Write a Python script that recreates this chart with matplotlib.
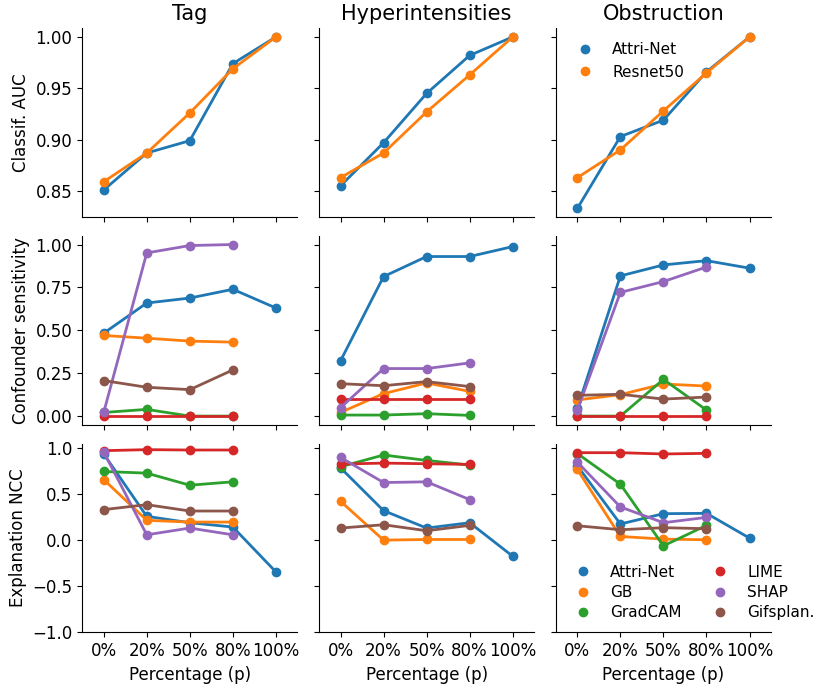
import numpy as np
import matplotlib
matplotlib.use('Agg')
import matplotlib.pyplot as plt
from matplotlib.lines import Line2D

# x categories
percentages = ['0%', '20%', '50%', '80%', '100%']
datasets = ['Tag', 'Hyperintensities', 'Obstruction']
row_labels = ['Classif. AUC', 'Confounder sensitivity', 'Explanation NCC']

# classification AUC
auc_attrinet = {
    'Tag': [0.851, 0.887, 0.899, 0.974, 1.0],
    'Hyperintensities': [0.855, 0.897, 0.945, 0.982, 1.0],
    'Obstruction': [0.833, 0.903, 0.919, 0.966, 1.0],
}
auc_resnet = {
    'Tag': [0.859, 0.887, 0.926, 0.969, 1.0],
    'Hyperintensities': [0.863, 0.887, 0.927, 0.963, 1.0],
    'Obstruction': [0.863, 0.890, 0.928, 0.965, 1.0],
}

# confounder sensitivity
methods = ['Attri-Net', 'GB', 'GradCAM', 'LIME', 'SHAP', 'Gifsplan.']
conf_tag = {
    'Attri-Net': [0.483, 0.659, 0.688, 0.739, 0.630],
    'GB': [0.470, 0.454, 0.437, 0.431],
    'GradCAM': [0.021, 0.039, 0.0, 0.0],
    'LIME': [0.0, 0.0, 0.0, 0.0],
    'SHAP': [0.021, 0.951, 0.994, 1.0],
    'Gifsplan.': [0.207, 0.168, 0.154, 0.269],
}
conf_hyper = {
    'Attri-Net': [0.322, 0.813, 0.930, 0.930, 0.988],
    'GB': [0.021, 0.131, 0.193, 0.144],
    'GradCAM': [0.006, 0.006, 0.014, 0.004],
    'LIME': [0.099, 0.099, 0.099, 0.099],
    'SHAP': [0.049, 0.277, 0.277, 0.310],
    'Gifsplan.': [0.189, 0.177, 0.201, 0.172],
}
conf_obst = {
    'Attri-Net': [0.045, 0.817, 0.881, 0.906, 0.862],
    'GB': [0.094, 0.125, 0.187, 0.175],
    'GradCAM': [0.0, 0.0, 0.214, 0.035],
    'LIME': [0.0, 0.0, 0.0, 0.0],
    'SHAP': [0.035, 0.721, 0.784, 0.869],
    'Gifsplan.': [0.121, 0.127, 0.099, 0.111],
}

# explanation NCC
ncc_tag = {
    'Attri-Net': [0.935, 0.258, 0.189, 0.142, -0.345],
    'GB': [0.658, 0.215, 0.196, 0.196],
    'GradCAM': [0.745, 0.727, 0.596, 0.633],
    'LIME': [0.971, 0.982, 0.978, 0.978],
    'SHAP': [0.956, 0.058, 0.131, 0.058],
    'Gifsplan.': [0.331, 0.385, 0.316, 0.316],
}
ncc_hyper = {
    'Attri-Net': [0.785, 0.320, 0.131, 0.189, -0.175],
    'GB': [0.422, 0.0, 0.007, 0.007],
    'GradCAM': [0.796, 0.924, 0.865, 0.815],
    'LIME': [0.825, 0.836, 0.829, 0.822],
    'SHAP': [0.898, 0.625, 0.633, 0.440],
    'Gifsplan.': [0.131, 0.167, 0.102, 0.160],
}
ncc_obst = {
    'Attri-Net': [0.807, 0.175, 0.287, 0.291, 0.022],
    'GB': [0.767, 0.040, 0.011, 0.004],
    'GradCAM': [0.940, 0.607, -0.062, 0.160],
    'LIME': [0.949, 0.949, 0.935, 0.942],
    'SHAP': [0.847, 0.360, 0.189, 0.247],
    'Gifsplan.': [0.156, 0.113, 0.135, 0.124],
}

conf = {'Tag': conf_tag, 'Hyperintensities': conf_hyper, 'Obstruction': conf_obst}
ncc = {'Tag': ncc_tag, 'Hyperintensities': ncc_hyper, 'Obstruction': ncc_obst}

colors = plt.rcParams['axes.prop_cycle'].by_key()['color']
method_colors = dict(zip(methods, colors))

plt.rcParams['font.family'] = ['DejaVu Sans']
fig, axes = plt.subplots(3, 3, figsize=(8.3, 6.91), dpi=100, sharex=True, sharey='row')
fig.subplots_adjust(left=0.099, right=0.929, top=0.959, bottom=0.085, wspace=0.1, hspace=0.1)

lw = 2
ms = 6
for j, d in enumerate(datasets):
    # row 1: AUC
    ax = axes[0, j]
    y = auc_attrinet[d]
    ax.plot(np.arange(len(y)), y, marker='o', color=colors[0], lw=lw, ms=ms)
    y = auc_resnet[d]
    ax.plot(np.arange(len(y)), y, marker='o', color=colors[1], lw=lw, ms=ms)
    ax.set_title(d, fontsize=15)

    # row 2 and 3
    for i, data in [(1, conf), (2, ncc)]:
        ax = axes[i, j]
        for m in methods:
            y = data[d][m]
            ax.plot(np.arange(len(y)), y, marker='o', color=method_colors[m], lw=lw, ms=ms)

    axes[2, j].set_xlabel('Percentage (p)', fontsize=12)

axes[2, 0].set_ylim(bottom=-1.0)
axes[0, 0].set_xlim(-0.5, 4.5)
axes[0, 0].set_xticks(range(len(percentages)))
axes[0, 0].set_xticklabels(percentages)

for i in range(3):
    axes[i, 0].set_ylabel(row_labels[i], fontsize=12)
    for j in range(3):
        ax = axes[i, j]
        ax.spines['top'].set_visible(False)
        ax.spines['right'].set_visible(False)
        ax.tick_params(labelsize=12)

# legends
h1 = [Line2D([], [], marker='o', ls='', color=colors[k], ms=ms) for k in range(2)]
axes[0, 2].legend(h1, ['Attri-Net', 'Resnet50'], loc='upper left', frameon=False, fontsize=11)

h2 = [Line2D([], [], marker='o', ls='', color=method_colors[m], ms=ms) for m in methods]
axes[2, 2].legend(h2, methods, loc='lower left', ncol=2, frameon=False, fontsize=11,
                  labelspacing=0.35, bbox_to_anchor=(-0.01, -0.01), columnspacing=1.5)

plt.savefig('out.png', dpi=100)
